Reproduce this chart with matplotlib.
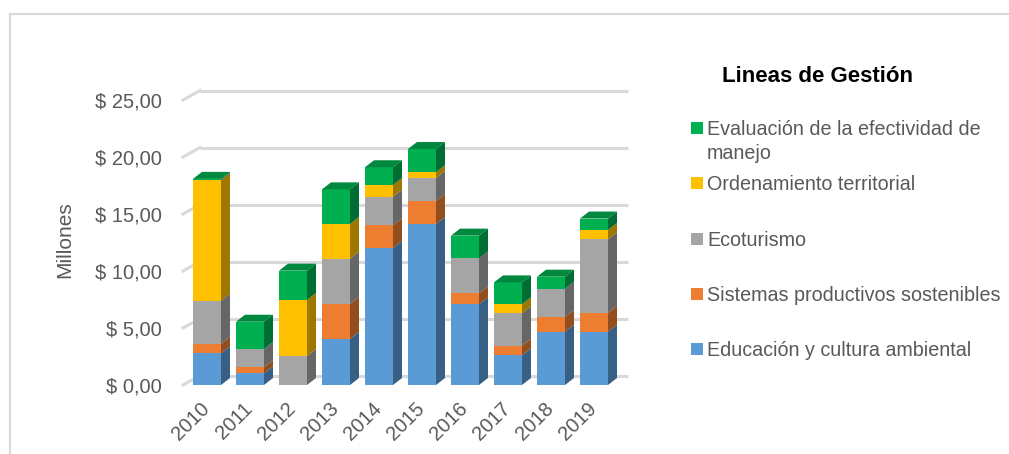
import matplotlib
matplotlib.use("Agg")
import matplotlib.pyplot as plt
from matplotlib import font_manager
from matplotlib.patches import Polygon, Rectangle
from matplotlib.lines import Line2D
import numpy as np

names = {f.name for f in font_manager.fontManager.ttflist}
if 'Liberation Sans Narrow' in names:
    body_font = ['Liberation Sans Narrow', 'DejaVu Sans']
    fs_tick, fs_leg, fs_lab = 17, 17, 18
else:
    body_font = ['Liberation Sans', 'DejaVu Sans']
    fs_tick, fs_leg, fs_lab = 14.5, 14.2, 15
plt.rcParams['font.family'] = body_font

# data (millones)
years = ['2010', '2011', '2012', '2013', '2014', '2015', '2016', '2017', '2018', '2019']
educacion = [2.78, 1.02, 0.00, 4.04, 12.02, 14.12, 7.08, 2.60, 4.68, 4.68]
sistemas = [0.84, 0.53, 0.00, 3.06, 1.98, 2.02, 0.96, 0.85, 1.28, 1.66]
ecoturismo = [3.77, 1.61, 2.54, 3.98, 2.52, 2.02, 3.07, 2.84, 2.49, 6.44]
ordenamiento = [10.59, 0.00, 4.92, 3.04, 1.02, 0.50, 0.00, 0.79, 0.00, 0.82]
evaluacion = [0.10, 2.39, 2.57, 3.04, 1.56, 2.04, 1.99, 1.92, 1.05, 1.00]

series = [
    ("Educación y cultura ambiental", educacion, "#5b9bd5"),
    ("Sistemas productivos sostenibles", sistemas, "#ed7d31"),
    ("Ecoturismo", ecoturismo, "#a5a5a5"),
    ("Ordenamiento territorial", ordenamiento, "#ffc000"),
    ("Evaluación de la efectividad de\nmanejo", evaluacion, "#00b050"),
]
yticks = [0, 5, 10, 15, 20, 25]

W, H = 1009, 454
fig = plt.figure(figsize=(W / 100, H / 100), dpi=100)

# axes placed in pixel coordinates
ax_l, ax_r, ax_b, ax_t = 183, 640, 385, 90
ax = fig.add_axes([ax_l / W, 1 - ax_b / H, (ax_r - ax_l) / W, (ax_b - ax_t) / H])
xpx, ypx = 43.0, 11.4  # pixels per data unit
ax.set_xlim((ax_l - 207) / xpx, (ax_r - 207) / xpx)
ax.set_ylim(0, (ax_b - ax_t) / ypx)
for s in ax.spines.values():
    s.set_visible(False)

def shade(c, f):
    rgb = np.array(matplotlib.colors.to_rgb(c))
    return tuple(rgb * f)

# back wall gridlines with slanted floor connectors
gdx, gdy = 17 / xpx, 9.5 / ypx
x0 = ax.get_xlim()[0]
xend = (628 - 207) / xpx
for t in yticks:
    ax.plot([x0 + gdx, xend], [t + gdy, t + gdy], color="#d9d9d9", lw=2.2,
            zorder=1, clip_on=False, solid_capstyle='butt')
    ax.plot([x0, x0 + gdx], [t, t + gdy], color="#d9d9d9", lw=2.2,
            zorder=1, clip_on=False)

# 3D-like stacked bars
bw = 28 / xpx
bdx, bdy = 9 / xpx, 7 / ypx
x = np.arange(len(years))
bottom = np.zeros(len(years))
for name, vals, col in series:
    vals = np.array(vals)
    ax.bar(x, vals, bw, bottom=bottom, color=col, zorder=3, linewidth=0)
    for i in range(len(years)):
        if vals[i] <= 0:
            continue
        xr = x[i] + bw / 2
        y0, y1 = bottom[i], bottom[i] + vals[i]
        ax.add_patch(Polygon([(xr, y0), (xr, y1), (xr + bdx, y1 + bdy), (xr + bdx, y0 + bdy)],
                             closed=True, fc=shade(col, 0.62), ec='none', zorder=3))
    bottom = bottom + vals

# top faces from the topmost non-zero segment
totals = bottom
for i in range(len(years)):
    topcol = None
    for name, vals, col in series:
        if vals[i] > 0:
            topcol = col
    xl = x[i] - bw / 2
    xr = x[i] + bw / 2
    t = totals[i]
    ax.add_patch(Polygon([(xl, t), (xr, t), (xr + bdx, t + bdy), (xl + bdx, t + bdy)],
                         closed=True, fc=shade(topcol, 0.78), ec='none', zorder=3, clip_on=False))

txtcol = "#595959"
ax.set_yticks(yticks)
ax.set_yticklabels([f"$ {v},00" for v in yticks], fontsize=fs_tick, color=txtcol)
ax.set_xticks(x)
ax.set_xticklabels(years, fontsize=fs_tick, color=txtcol, rotation=45,
                   ha='right', va='center', rotation_mode='anchor')
ax.tick_params(axis='y', length=0, pad=15)
ax.tick_params(axis='x', length=0, pad=15)

fig.text(65 / W, 1 - 240 / H, "Millones", rotation=90, fontsize=fs_lab,
         color=txtcol, ha='center', va='center')

# legend drawn by hand
fig.text(817 / W, 1 - 76 / H, "Lineas de Gestión", fontsize=16, fontweight='bold',
         color='black', ha='center', va='center', family=['Liberation Sans', 'DejaVu Sans'])
leg_y = [349, 294, 239, 183, 128]
for (name, vals, col), ly in zip(series, leg_y):
    fig.add_artist(Rectangle((691 / W, 1 - (ly + 6) / H), 12 / W, 12 / H,
                             transform=fig.transFigure, fc=col, ec='none'))
    fig.text(707 / W, 1 - (ly - 8) / H, name, fontsize=fs_leg, color=txtcol,
             ha='left', va='top', linespacing=1.33)

# chart border
fig.add_artist(Line2D([10 / W, 1], [1 - 14 / H, 1 - 14 / H], color="#d9d9d9", lw=1.5,
                      transform=fig.transFigure))
fig.add_artist(Line2D([10 / W, 10 / W], [0, 1 - 14 / H], color="#d9d9d9", lw=1.5,
                      transform=fig.transFigure))

fig.savefig("out.png", dpi=100)
